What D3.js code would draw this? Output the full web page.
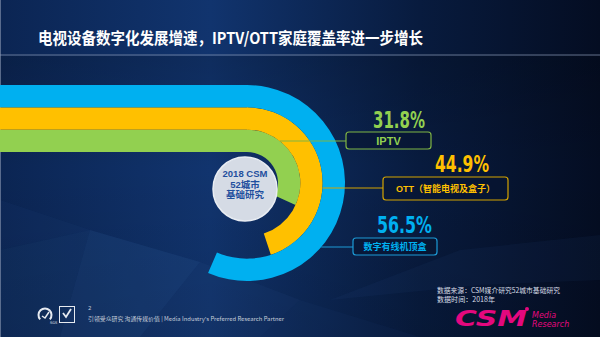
<!DOCTYPE html>
<html><head><meta charset="utf-8">
<script src="https://cdn.jsdelivr.net/npm/d3@7/dist/d3.min.js"></script>
<style>
html,body{margin:0;padding:0;background:#071633;}
svg{display:block;}
</style></head>
<body>
<svg id="chart" width="600" height="337"></svg>
<script>
const title = "电视设备数字化发展增速，IPTV/OTT家庭覆盖率进一步增长";
const categories = ["IPTV", "OTT（智能电视及盒子）", "数字有线机顶盒"];
const values = [31.8, 44.9, 56.5];
const valueLabels = ["31.8%", "44.9%", "56.5%"];
const colors = ["#92d050", "#ffc000", "#00b0f0"];
const boxStrokes = ["#7fb544", "#d4a300", "#1c9ad6"];
const centerLines = ["2018 CSM", "52城市", "基础研究"];
const sourceLines = ["数据来源：CSM媒介研究52城市基础研究", "数据时间：2018年"];
const footer = "引领受众研究 沟通传媒价值 | Media Industry's Preferred Research Partner";

const svg = d3.select("#chart");
const W = 600, H = 337;
const defs = svg.append("defs");

// background gradient
const bg = defs.append("linearGradient").attr("id","bg").attr("x1","0").attr("x2","1").attr("y1","0").attr("y2","0");
bg.append("stop").attr("offset","0%").attr("stop-color","#0b2553");
bg.append("stop").attr("offset","35%").attr("stop-color","#11346e");
bg.append("stop").attr("offset","70%").attr("stop-color","#081b3e");
bg.append("stop").attr("offset","100%").attr("stop-color","#040d22");
svg.append("rect").attr("width",W).attr("height",H).attr("fill","url(#bg)");

const vg = defs.append("linearGradient").attr("id","vshade").attr("x1","0").attr("x2","0").attr("y1","0").attr("y2","1");
vg.append("stop").attr("offset","0%").attr("stop-color","#000").attr("stop-opacity",0.15);
vg.append("stop").attr("offset","40%").attr("stop-color","#000").attr("stop-opacity",0);
vg.append("stop").attr("offset","100%").attr("stop-color","#000").attr("stop-opacity",0.1);
svg.append("rect").attr("y",56).attr("width",W).attr("height",H-56).attr("fill","url(#vshade)");

// low-poly facets
const facets = [
  [[0,250],[90,230],[60,337],[0,337]],
  [[90,230],[200,262],[140,337],[60,337]],
  [[200,262],[300,300],[260,337],[140,337]],
  [[0,200],[90,230],[0,250]],
  [[330,300],[460,250],[600,235],[600,280],[480,285]],
  [[300,300],[420,337],[260,337]]
];
const facetOps = [0.10,0.16,0.08,0.06,0.07,0.05];
svg.append("g").selectAll("polygon").data(facets).join("polygon")
  .attr("points", d => d.map(p => p.join(",")).join(" "))
  .attr("fill", "#3a6aa8").attr("opacity", (d,i) => facetOps[i]);

// header separator line
svg.append("line").attr("x1",0).attr("x2",W).attr("y1",55).attr("y2",55)
  .attr("stroke","#8d9bb5").attr("stroke-width",1).attr("opacity",0.7);
svg.append("line").attr("x1",0.5).attr("x2",0.5).attr("y1",0).attr("y2",H)
  .attr("stroke","#8d9bb5").attr("stroke-width",1).attr("opacity",0.6);

// title
svg.append("text").attr("x",38).attr("y",44).text(title)
  .attr("font-family","'Noto Sans CJK SC', sans-serif").attr("font-weight","bold")
  .attr("font-size",16).attr("textLength",385).attr("lengthAdjust","spacingAndGlyphs")
  .attr("fill","#ffffff");

// ring chart
const cx = 247, cy = 183;
const radius = d3.scaleBand().domain(categories).range([31, 98]).paddingInner(0);
const angle = d3.scaleLinear().domain([0, 100]).range([0, 2 * Math.PI]);
const arcGen = d3.arc();

const rings = categories.map((c, i) => ({
  cat: c, value: values[i], color: colors[i],
  inner: radius(c), outer: radius(c) + radius.bandwidth()
}));

const g = svg.append("g");
// straight bars
g.selectAll("rect.bar").data(rings).join("rect").attr("class","bar")
  .attr("x", 0).attr("width", cx + 0.5)
  .attr("y", d => cy - d.outer).attr("height", d => d.outer - d.inner)
  .attr("fill", d => d.color);
// arcs
g.selectAll("path.arc").data(rings).join("path").attr("class","arc")
  .attr("transform", `translate(${cx},${cy})`)
  .attr("d", d => arcGen({innerRadius: d.inner, outerRadius: d.outer, startAngle: 0, endAngle: angle(d.value)}))
  .attr("fill", d => d.color);

// labels layout
const labelLayout = [
  {lineY: 141, box: [346, 132, 85, 17], pct: [373, 128, 52], fs: 11},
  {lineY: 188, box: [383, 177, 125, 23], pct: [435, 172, 54], fs: 9},
  {lineY: 247, box: [353, 238, 84, 17], pct: [377, 233, 55], fs: 9}
];

rings.forEach((d, i) => {
  const L = labelLayout[i];
  const dy = L.lineY - cy;
  const x0 = cx + Math.sqrt(Math.max(0, d.outer * d.outer - dy * dy));
  svg.append("line").attr("x1", x0).attr("x2", L.box[0]).attr("y1", L.lineY).attr("y2", L.lineY)
    .attr("stroke", boxStrokes[i]).attr("stroke-width", 1);
  svg.append("rect").attr("x", L.box[0]).attr("y", L.box[1]).attr("width", L.box[2]).attr("height", L.box[3])
    .attr("rx", 3).attr("fill", "#061430").attr("fill-opacity", 0.6)
    .attr("stroke", boxStrokes[i]).attr("stroke-width", 1.2);
  svg.append("text").attr("x", L.box[0] + L.box[2] / 2).attr("y", L.box[1] + L.box[3] / 2)
    .attr("text-anchor", "middle").attr("dominant-baseline", "central")
    .attr("font-family", "'Liberation Sans', 'Noto Sans CJK SC', sans-serif").attr("font-weight", "bold")
    .attr("font-size", L.fs).attr("fill", d.color).text(d.cat);
  svg.append("text").attr("x", L.pct[0]).attr("y", L.pct[1])
    .attr("font-family", "'Liberation Sans Narrow', 'DejaVu Sans Condensed', sans-serif")
    .attr("font-weight", "bold").attr("font-size", 23)
    .attr("textLength", L.pct[2]).attr("lengthAdjust", "spacingAndGlyphs")
    .attr("fill", d.color).text(valueLabels[i]);
});

// center circle
svg.append("circle").attr("cx", 245).attr("cy", 189).attr("r", 32)
  .attr("fill", "#d5dbe5").attr("stroke", "#e9edf3").attr("stroke-width", 1.5);
svg.append("g").selectAll("text").data(centerLines).join("text")
  .attr("x", 245).attr("y", (d, i) => 177 + i * 10.5)
  .attr("text-anchor", "middle")
  .attr("font-family", "'Liberation Sans', 'Noto Sans CJK SC', sans-serif").attr("font-weight", "bold")
  .attr("font-size", 9.5).attr("fill", "#1f4f9e").text(d => d);

// source text
svg.append("g").selectAll("text").data(sourceLines).join("text")
  .attr("x", 437).attr("y", (d, i) => 293 + i * 8.5)
  .attr("font-family", "'Noto Sans CJK SC', sans-serif")
  .attr("font-size", 7).attr("fill", "#d8dde6")
  .attr("textLength", (d, i) => i === 0 ? 123 : 58).attr("lengthAdjust", "spacingAndGlyphs")
  .text(d => d);

// CSM logo
svg.append("text").attr("x", 455).attr("y", 326)
  .attr("font-family", "'DejaVu Sans', sans-serif").attr("font-weight", "bold").attr("font-style", "italic")
  .attr("font-size", 21).attr("textLength", 72).attr("lengthAdjust", "spacingAndGlyphs")
  .attr("fill", "#e4087e").text("CSM");
svg.append("circle").attr("cx", 527).attr("cy", 309).attr("r", 2).attr("fill", "#e4087e");
svg.append("text").attr("x", 532).attr("y", 318)
  .attr("font-family", "'DejaVu Sans', sans-serif").attr("font-style", "italic")
  .attr("font-size", 8).attr("fill", "#e4087e").text("Media");
svg.append("text").attr("x", 532).attr("y", 326.5)
  .attr("font-family", "'DejaVu Sans', sans-serif").attr("font-style", "italic")
  .attr("font-size", 8).attr("fill", "#e4087e").text("Research");

// footer
svg.append("text").attr("x", 88).attr("y", 310).attr("font-family", "'DejaVu Sans', sans-serif")
  .attr("font-size", 5.5).attr("fill", "#c9d0dc").text("2");
svg.append("text").attr("x", 88).attr("y", 320.5).attr("font-family", "'Noto Sans CJK SC', sans-serif")
  .attr("font-size", 5.5).attr("fill", "#c9d0dc")
  .attr("textLength", 196).attr("lengthAdjust", "spacingAndGlyphs").text(footer);

// small logos
const lg = svg.append("g").attr("fill", "none").attr("stroke", "#e6eaf0");
lg.append("path").attr("d", d3.arc()({innerRadius: 5.5, outerRadius: 7.5, startAngle: -2.3, endAngle: 2.3}))
  .attr("transform", "translate(45,315)").attr("fill", "#e6eaf0").attr("stroke", "none");
lg.append("path").attr("d", "M42,316 L45,318 L49,312").attr("stroke-width", 1.5);
lg.append("rect").attr("x", 59.5).attr("y", 306.5).attr("width", 15).attr("height", 16).attr("stroke-width", 1);
lg.append("path").attr("d", "M63,313 L66,317 L71,309").attr("stroke-width", 1.8);
svg.append("text").attr("x", 50).attr("y", 324).attr("font-family", "'DejaVu Sans', sans-serif")
  .attr("font-size", 3.5).attr("fill", "#e6eaf0").text("SGS");
</script>
</body></html>
